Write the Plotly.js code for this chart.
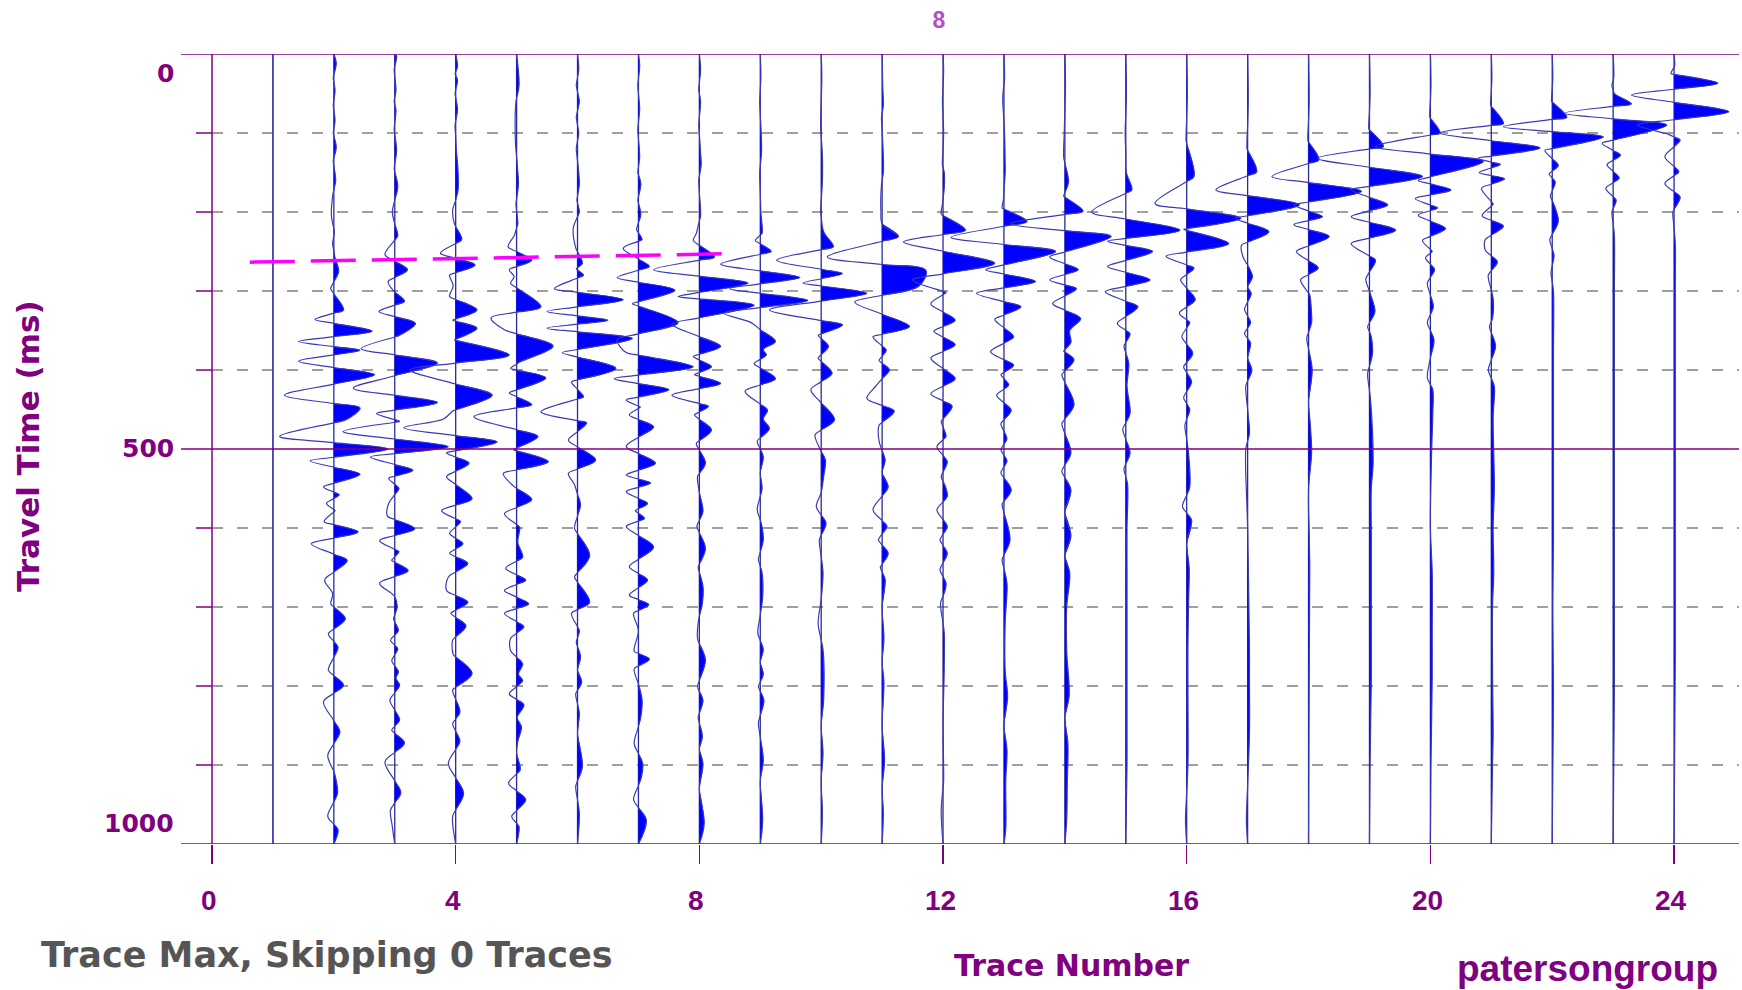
<!DOCTYPE html>
<html>
<head>
<meta charset="utf-8">
<script src="https://cdn.plot.ly/plotly-3.0.1.min.js"></script>
<style>html,body{margin:0;padding:0;background:#fff;}#chart{width:1742px;height:990px;}</style>
</head>
<body>
<div id="chart"></div>
<script>
// ---------------- data ----------------
const traceNumbers = [1,2,3,4,5,6,7,8,9,10,11,12,13,14,15,16,17,18,19,20,21,22,23,24];
// each trace: [travel time (ms), amplitude (trace units)] at turning points
const trace01 = [];
const trace02 = [[12,0.04],[30,-0.01],[46,0.02],[65,-0.01],[84,0.02],[100,-0.01],[118,0.04],[135,-0.01],[160,0.03],[180,-0.02],[205,-0.04],[225,0.01],[240,-0.02],[258,0.02],[275,0.08],[297,-0.05],[324,0.16],[336,-0.31],[351,0.63],[364,-0.58],[375,0.43],[389,-0.58],[406,0.67],[432,-0.81],[448,0.43],[463,0.2],[484,-0.89],[500,0.89],[515,-0.39],[532,0.43],[548,-0.17],[558,0.09],[569,-0.12],[578,0.02],[592,-0.16],[605,0.4],[620,-0.37],[641,0.22],[666,-0.15],[683,-0.02],[696,-0.05],[715,0.19],[734,-0.09],[751,0.07],[780,-0.09],[799,0.16],[820,-0.17],[858,0.1],[888,-0.1],[910,0.01],[936,0.06],[965,-0.1],[982,0.07]];
const trace03 = [[3,0.03],[20,-0.01],[46,0.02],[60,-0.01],[71,0.02],[95,-0.01],[122,0.03],[145,-0.01],[168,0.05],[185,0],[200,-0.04],[215,0],[230,0.05],[254,-0.16],[273,0.21],[288,-0.11],[300,-0.02],[313,0.16],[326,-0.26],[341,0.34],[356,0.08],[373,-0.55],[391,0.7],[423,-0.68],[441,0.7],[455,-0.3],[465,0.08],[478,-0.85],[497,0.88],[510,-0.4],[527,0.3],[537,-0.1],[550,0.07],[569,-0.1],[585,-0.12],[601,0.33],[616,-0.25],[630,0.07],[641,-0.05],[654,0.22],[670,-0.25],[687,0],[700,0.04],[715,-0.02],[730,0.06],[742,-0.07],[753,0.05],[768,-0.05],[782,0.06],[790,0.02],[799,0.08],[818,-0.08],[843,0.08],[856,-0.05],[872,0.16],[896,-0.16],[935,0.1],[957,-0.07],[978,-0.04]];
const trace04 = [[16,0.03],[25,-0.01],[33,0.03],[50,-0.01],[70,0.03],[90,-0.01],[120,0.01],[150,0.04],[172,0.04],[185,0],[198,-0.05],[215,-0.02],[235,0.1],[252,-0.25],[267,0.32],[280,-0.1],[293,-0.04],[307,-0.1],[324,0.35],[337,-0.05],[347,0.35],[362,-0.02],[381,0.88],[400,-0.75],[432,0.6],[452,-0.05],[462,-0.2],[473,-0.85],[491,0.68],[505,-0.15],[518,0.22],[535,-0.15],[563,0.27],[578,-0.23],[592,0.08],[607,-0.1],[620,0.12],[632,-0.1],[645,0.2],[662,-0.12],[679,-0.15],[694,0.2],[708,-0.08],[724,0.17],[742,-0.05],[760,-0.04],[784,0.27],[805,-0.05],[833,0.07],[848,-0.05],[870,0.07],[898,-0.12],[936,0.13],[965,-0.05]];
const trace05 = [[40,0.04],[60,-0.01],[110,-0.02],[140,0.01],[165,0.03],[190,-0.01],[215,0.02],[230,-0.04],[244,-0.14],[261,0.25],[273,-0.12],[282,-0.04],[290,-0.1],[320,0.4],[334,-0.42],[349,-0.2],[370,0.6],[390,0.05],[398,-0.1],[410,0.48],[429,-0.12],[444,0.25],[459,-0.7],[484,0.35],[501,-0.05],[516,0.52],[531,-0.22],[547,-0.05],[564,0.25],[582,-0.2],[599,0.05],[618,0.02],[637,0.1],[651,-0.18],[666,0.15],[679,-0.2],[696,0.2],[708,-0.2],[725,0.12],[740,-0.1],[755,-0.1],[772,0.1],[785,0.03],[793,0.1],[810,-0.12],[824,0.12],[840,0.01],[852,0.08],[870,0.02],[885,0],[906,0.06],[923,-0.13],[944,0.15],[965,-0.08],[978,0.04]];
const trace06 = [[20,0.02],[40,-0.02],[60,0.03],[80,-0.02],[100,0.02],[120,-0.02],[150,0.02],[165,0.03],[185,-0.01],[200,0.03],[220,-0.07],[245,-0.03],[265,0.08],[272,-0.02],[280,0.1],[297,-0.38],[311,0.75],[326,-0.5],[337,0.5],[347,-0.5],[360,0.9],[378,-0.25],[398,0.63],[415,-0.1],[434,0.1],[453,-0.6],[467,0.15],[489,-0.15],[514,0.3],[531,-0.15],[545,-0.05],[570,0.05],[600,-0.05],[635,0.2],[662,-0.05],[694,0.2],[708,-0.1],[730,0.03],[745,-0.02],[763,0.05],[780,0],[795,0.07],[810,-0.03],[835,0.03],[860,0],[902,0.08],[927,-0.03],[961,0.03]];
const trace07 = [[15,0.02],[40,-0.01],[70,0.02],[95,-0.01],[130,0.02],[150,-0.01],[164,0.04],[185,-0.01],[203,0.04],[222,-0.03],[235,0.06],[246,-0.25],[269,0.18],[283,-0.35],[299,0.6],[316,-0.1],[340,0.65],[362,-0.35],[378,-0.2],[396,0.9],[411,-0.4],[425,0.5],[438,-0.2],[447,0.03],[457,-0.15],[472,0.25],[485,0],[497,-0.2],[518,0.28],[533,-0.2],[543,0.2],[554,-0.2],[569,0.15],[578,-0.05],[588,0.1],[598,-0.2],[624,0.25],[649,-0.15],[666,0.15],[685,-0.15],[697,0.17],[708,-0.08],[730,0],[756,-0.07],[766,0.18],[778,-0.07],[800,0.01],[818,0.06],[839,0.04],[873,-0.07],[898,0.07],[915,0.05],[944,-0.08],[970,0.13]];
const trace08 = [[20,0.02],[45,-0.01],[60,0.02],[90,-0.01],[125,0.02],[140,0.03],[160,-0.01],[205,0.02],[227,-0.05],[236,-0.1],[257,0.25],[273,-0.75],[290,0.8],[307,-0.35],[318,0.9],[342,-0.45],[370,0.35],[383,-0.1],[396,0.2],[406,-0.08],[417,0.35],[432,-0.45],[446,0.15],[457,-0.08],[476,0.2],[493,-0.05],[518,0.1],[535,-0.03],[555,0],[579,0.06],[598,-0.04],[626,0.1],[650,-0.02],[674,0.06],[695,0.05],[715,-0.01],[740,-0.03],[767,0.1],[801,-0.03],[818,0.06],[840,-0.02],[864,0.05],[880,0],[898,0.06],[930,0],[974,0.08]];
const trace09 = [[30,0.01],[60,-0.01],[110,0.02],[125,0.02],[150,-0.01],[200,0.01],[227,0.03],[236,-0.08],[250,0.18],[266,-0.65],[283,0.65],[297,-0.5],[312,0.78],[328,-0.6],[340,-0.15],[364,0.25],[374,0.05],[381,0.1],[392,-0.1],[411,0.25],[427,-0.25],[451,0.12],[462,0.05],[474,0.15],[490,-0.05],[510,0.05],[530,0],[550,0.03],[577,-0.05],[595,0.02],[615,0.05],[640,-0.03],[657,0.03],[687,0.04],[710,0],[733,-0.04],[754,0.05],[770,0],[785,0.05],[801,-0.03],[818,0.06],[847,-0.03],[894,0.05],[920,0],[970,0.04]];
const trace10 = [[30,0.01],[90,-0.01],[130,0.02],[160,0.02],[200,-0.01],[225,0.04],[244,0.2],[261,-0.73],[278,0.35],[290,-0.3],[303,0.75],[324,-0.85],[343,0.35],[356,-0.05],[370,0.12],[385,-0.05],[404,0.18],[425,-0.17],[463,0.22],[482,-0.1],[500,-0.02],[514,0.07],[535,0.04],[555,0],[573,-0.08],[594,0.08],[615,-0.03],[657,0.03],[690,0],[721,-0.05],[754,0.03],[818,0.04],[850,0],[885,0.03],[920,0],[960,0.02]];
const trace11 = [[40,0.01],[65,0.02],[80,-0.01],[130,0.02],[150,0.02],[165,-0.01],[200,-0.02],[215,0],[231,0.27],[257,-0.9],[274,0.72],[294,0.6],[314,-0.45],[345,0.45],[358,-0.15],[375,0.07],[388,-0.05],[400,0.12],[420,-0.1],[436,-0.25],[452,0.2],[470,-0.05],[490,-0.05],[514,0.05],[530,0],[548,0.1],[577,-0.15],[598,0.08],[615,-0.06],[632,0.1],[650,-0.03],[665,0.05],[700,0],[740,0.03],[770,0],[795,0.03],[850,0],[894,0.04],[930,0],[960,0.02]];
const trace12 = [[20,0.01],[60,-0.01],[100,0.01],[140,-0.01],[150,0.02],[170,0.02],[190,-0.01],[203,-0.03],[223,0.37],[238,-0.65],[265,0.85],[286,-0.5],[302,0.05],[316,-0.2],[337,0.2],[351,-0.15],[368,0.2],[385,-0.2],[411,0.2],[430,-0.2],[446,0.15],[465,-0.03],[484,0.05],[497,-0.1],[516,0.07],[535,-0.03],[550,0.05],[560,0.07],[577,-0.1],[598,0.07],[615,-0.05],[632,0.07],[653,-0.05],[670,0.05],[680,0.03],[695,-0.04],[733,0.02],[775,0.02],[850,0],[920,0.01],[957,-0.03]];
const trace13 = [[30,0.01],[55,-0.02],[100,0.01],[140,0.02],[150,0.02],[185,-0.01],[195,-0.03],[212,0.38],[232,-0.87],[250,0.85],[273,-0.3],[288,0.52],[303,-0.45],[320,0.28],[336,-0.15],[358,0.16],[377,-0.22],[394,0.16],[406,-0.05],[419,0.08],[432,-0.12],[451,0.12],[468,-0.05],[487,0.05],[501,-0.05],[515,0.05],[530,-0.05],[552,0.12],[570,-0.03],[615,0.1],[640,-0.03],[670,0.05],[720,0.02],[780,0.02],[814,0.06],[850,0],[881,0.05],[920,0.03],[980,0.03]];
const trace14 = [[40,0.01],[100,-0.01],[130,-0.02],[162,0.06],[180,-0.02],[199,0.3],[215,-0.9],[231,0.76],[257,-0.25],[273,0.22],[286,-0.25],[297,0.19],[316,-0.2],[335,0.26],[350,0.08],[365,0.1],[376,-0.02],[387,0.15],[406,-0.05],[444,0.15],[468,-0.05],[505,0.1],[528,-0.05],[552,0.1],[580,0],[610,0.1],[635,0],[657,0.08],[700,0.03],[755,0.03],[813,0.07],[840,0],[873,0.05],[920,0.04],[970,0.03]];
const trace15 = [[50,0.01],[100,-0.01],[150,0.01],[172,0.1],[200,-0.56],[223,0.89],[237,-0.3],[250,0.44],[269,-0.3],[286,0.4],[301,-0.34],[320,0.2],[341,-0.14],[354,0.07],[370,-0.03],[392,0.05],[420,0.02],[455,0.07],[475,-0.05],[505,0.07],[525,-0.03],[545,0.03],[600,0.02],[650,0.02],[700,0.02],[790,0.02],[850,0.02],[900,0.02]];
const trace16 = [[50,0.01],[110,-0.01],[155,0.12],[189,-0.52],[208,0.89],[222,-0.05],[240,0.69],[256,-0.34],[271,0.12],[286,-0.1],[311,0.14],[328,-0.12],[340,0.05],[358,-0.08],[379,0.1],[396,-0.05],[415,0.08],[435,-0.05],[450,0.05],[470,-0.03],[505,0.03],[548,0.05],[573,-0.07],[590,0.08],[620,0],[650,0.04],[695,0.03],[750,0.02],[800,0.02],[900,0.02],[970,-0.02]];
const trace17 = [[60,0.01],[120,-0.01],[149,0.15],[172,-0.52],[191,0.85],[208,-0.2],[225,0.35],[242,-0.1],[256,-0.08],[270,0.02],[282,0.08],[295,0],[303,0.06],[323,-0.05],[340,0.05],[354,-0.05],[366,0.05],[385,0],[400,0.07],[420,-0.03],[480,0.03],[500,-0.03],[600,0],[754,0.03],[790,0.03],[860,0.03],[970,-0.02]];
const trace18 = [[60,0.01],[110,-0.01],[134,0.17],[155,-0.6],[174,0.87],[191,-0.24],[206,0.23],[216,-0.24],[231,0.34],[250,-0.2],[271,0.16],[286,-0.13],[305,0.02],[330,0.05],[340,0.05],[360,-0.03],[400,0.06],[440,0],[470,0.03],[505,0.05],[550,0],[650,0.02],[800,0.01]];
const trace19 = [[50,0.01],[95,-0.01],[117,0.23],[132,-0.85],[155,0.87],[172,-0.3],[191,0.3],[206,-0.3],[223,0.43],[240,-0.3],[261,0.1],[285,-0.06],[305,0.02],[326,0.09],[345,-0.03],[358,0.03],[379,0.05],[405,-0.03],[440,0.02],[518,0.06],[550,0.03],[610,0.03],[655,0.03],[733,0.03],[792,0.03],[900,0.01]];
const trace20 = [[40,0.01],[80,-0.01],[100,0.16],[117,-0.9],[136,0.87],[160,-0.2],[172,0.34],[183,-0.25],[195,0.12],[204,-0.2],[221,0.25],[236,-0.13],[250,0.03],[258,-0.08],[273,0.07],[290,-0.05],[320,0.05],[340,-0.05],[362,0.06],[385,0],[410,-0.05],[425,0.04],[455,0.04],[505,0.02],[600,0],[657,0.03],[733,0.03],[788,0.03],[900,0.01]];
const trace21 = [[30,0.01],[65,-0.01],[88,0.2],[100,-0.85],[119,0.8],[132,-0.22],[140,0.15],[150,-0.2],[158,0.22],[170,-0.16],[190,0.03],[205,-0.15],[218,0.2],[235,-0.1],[248,-0.1],[263,0.1],[280,-0.05],[310,0.03],[335,0.02],[345,-0.03],[370,0.07],[400,-0.05],[421,0.05],[460,0.03],[548,0.05],[600,0.03],[657,0.04],[700,0.02],[780,0.02],[860,0.03],[900,0.02]];
const trace22 = [[30,0.01],[60,-0.01],[80,0.24],[92,-0.8],[105,0.84],[122,-0.12],[141,0.1],[152,-0.05],[162,0.05],[180,-0.03],[195,0.05],[212,0.1],[235,-0.04],[255,0.03],[277,-0.02],[300,0.02],[380,0.02],[505,0.02],[615,0.02],[700,0.01],[810,0.02]];
const trace23 = [[30,0.01],[40,-0.02],[50,0.02],[63,0.3],[75,-0.8],[90,0.88],[113,-0.18],[128,0.12],[140,-0.1],[157,0.1],[170,-0.12],[185,0.05],[200,-0.02],[230,0.02],[300,0.02],[400,0.02],[520,0.02],[610,0.02],[700,0.02],[800,0.02]];
const trace24 = [[15,0.01],[25,-0.05],[37,0.72],[52,-0.7],[73,0.9],[90,-0.6],[102,-0.08],[109,0.1],[130,-0.15],[149,0.08],[164,-0.15],[181,0.1],[200,-0.02],[240,0.02],[300,0.02],[400,0.02],[460,0.02],[520,0.02],[600,0.02],[690,0.02],[760,0.02]];

// first-break pick (magenta dashed)
const pickTrace = [0.62, 8.37];
const pickTime  = [263.5, 253];

const xTickVals = [0, 4, 8, 12, 16, 20, 24];
const yTickVals = [0, 500, 1000];
const yGridVals = [100, 200, 300, 400, 600, 700, 800, 900];

// ---------------- build ----------------
const wiggleKnots = [trace01,trace02,trace03,trace04,trace05,trace06,trace07,trace08,trace09,trace10,trace11,trace12,
                     trace13,trace14,trace15,trace16,trace17,trace18,trace19,trace20,trace21,trace22,trace23,trace24];
const T_START = 0, T_END = 1000;
const PURPLE = '#800080';

function withZeros(knots){
  const pts = [[T_START,0]].concat(knots, [[T_END,0]]);
  const out = [];
  for (let i = 0; i < pts.length; i++){
    if (i > 0){
      const [t0,a0] = pts[i-1], [t1,a1] = pts[i];
      if (a0*a1 < 0){ out.push([t0 + (t1-t0)*a0/(a0-a1), 0]); }
    }
    out.push(pts[i]);
  }
  return out;
}

const data = [];
// trace baselines
const bx = [], by = [];
traceNumbers.forEach(n => { bx.push(n, n, null); by.push(T_START, T_END, null); });
data.push({type:'scatter', mode:'lines', x:bx, y:by, line:{color:'#2a2a9e', width:1.3},
           hoverinfo:'skip', showlegend:false});

// positive-lobe fills
traceNumbers.forEach((n, i) => {
  const pts = withZeros(wiggleKnots[i]);
  const fx = [], fy = [];
  let run = null;
  for (let j = 0; j < pts.length; j++){
    const a = pts[j][1];
    if (a > 0){
      if (!run) run = [pts[j-1]];
      run.push(pts[j]);
    } else if (run){
      run.push(pts[j]);
      run.forEach(p => { fx.push(n + p[1]); fy.push(p[0]); });
      fx.push(null); fy.push(null);
      run = null;
    }
  }
  if (fx.length) data.push({type:'scatter', mode:'lines', x:fx, y:fy, fill:'toself', fillcolor:'#0000ff',
      line:{width:0, shape:'spline', color:'rgba(0,0,255,0)'}, hoverinfo:'skip', showlegend:false});
});

// wiggle lines
traceNumbers.forEach((n, i) => {
  const pts = withZeros(wiggleKnots[i]);
  data.push({type:'scatter', mode:'lines', x:pts.map(p => n + p[1]), y:pts.map(p => p[0]),
             line:{color:'#3a3ab4', width:1.2, shape:'spline', smoothing:1}, hoverinfo:'skip', showlegend:false});
});

// pick line
data.push({type:'scatter', mode:'lines', x:pickTrace, y:pickTime,
           line:{color:'#ff00ff', width:3.5, dash:'45px,16px'}, hoverinfo:'skip', showlegend:false});

// ---------------- layout ----------------
const L = 181, R = 1739, TOP = 54, BOT = 844;
const px2paperX = px => (px - L) / (R - L);
const py2paperY = py => (BOT - py) / (BOT - TOP);

const shapes = [];
// solid purple lines at 0, 500, 1000
yTickVals.forEach(v => shapes.push({type:'line', xref:'paper', yref:'y', x0:0, x1:1, y0:v, y1:v,
   line:{color:PURPLE, width:1.5}, layer:'above'}));
// dashed grid
yGridVals.forEach(v => {
  shapes.push({type:'line', xref:'x', yref:'y', x0:0, x1:25.07, y0:v, y1:v,
     line:{color:'#808080', width:1.5, dash:'11px,14px'}, layer:'below'});
  shapes.push({type:'line', xref:'paper', yref:'y', x0:px2paperX(196), x1:px2paperX(212), y0:v, y1:v,
     line:{color:PURPLE, width:1.5}});
});
// y axis line at x = 0
shapes.push({type:'line', xref:'x', yref:'paper', x0:0, x1:0, y0:0, y1:1, line:{color:PURPLE, width:1.5}, layer:'above'});

const annotations = [];
xTickVals.forEach(v => annotations.push({xref:'x', x:v, yref:'paper', y:py2paperY(900), xshift:-3,
   text:'<b>'+v+'</b>', showarrow:false, xanchor:'center', yanchor:'middle',
   font:{family:'Liberation Sans, Arial, sans-serif', size:28, color:PURPLE}}));
const yLabelCenters = [73, 448, 823];
yTickVals.forEach((v, k) => annotations.push({xref:'paper', x:px2paperX(176), yref:'paper', y:py2paperY(yLabelCenters[k]),
   text:'<b>'+v+'</b>', showarrow:false, xanchor:'right', yanchor:'middle',
   font:{family:'DejaVu Sans, sans-serif', size:25, color:PURPLE}}));
annotations.push({xref:'paper', x:px2paperX(28), yref:'paper', y:py2paperY(446), text:'<b>Travel Time (ms)</b>',
   textangle:-90, showarrow:false, xanchor:'center', yanchor:'middle',
   font:{family:'DejaVu Sans, sans-serif', size:31, color:PURPLE}});
annotations.push({xref:'paper', x:px2paperX(1071), yref:'paper', y:py2paperY(965), text:'<b>Trace Number</b>',
   showarrow:false, xanchor:'center', yanchor:'middle',
   font:{family:'DejaVu Sans, sans-serif', size:30, color:PURPLE}});
annotations.push({xref:'paper', x:px2paperX(39), yref:'paper', y:py2paperY(955), text:'<b>Trace Max, Skipping 0 Traces</b>',
   showarrow:false, xanchor:'left', yanchor:'middle',
   font:{family:'DejaVu Sans, sans-serif', size:35, color:'#555555'}});
annotations.push({xref:'paper', x:px2paperX(1720), yref:'paper', y:py2paperY(968), text:'<b>patersongroup</b>',
   showarrow:false, xanchor:'right', yanchor:'middle',
   font:{family:'Liberation Sans, Arial, sans-serif', size:37, color:PURPLE}});

const layout = {
  width:1742, height:990,
  margin:{l:L, r:1742-R, t:TOP, b:990-BOT, pad:0},
  paper_bgcolor:'#ffffff', plot_bgcolor:'#ffffff',
  showlegend:false,
  title:{text:'<b>8</b>', xref:'container', yref:'container', x:939/1742, y:1-20/990,
         xanchor:'center', yanchor:'middle', font:{family:'Liberation Sans, Arial, sans-serif', size:23, color:'#b04fc8'}},
  xaxis:{range:[-0.509, 25.066], showgrid:false, zeroline:false, showline:false,
         tickmode:'array', tickvals:xTickVals, ticks:'outside', ticklen:19, tickwidth:1.5, tickcolor:PURPLE,
         showticklabels:false, fixedrange:true},
  yaxis:{range:[T_END, T_START], showgrid:false, zeroline:false, showline:false, showticklabels:false,
         ticks:'', fixedrange:true},
  shapes:shapes, annotations:annotations
};

Plotly.newPlot('chart', data, layout, {staticPlot:true, displayModeBar:false});
</script>
</body>
</html>
